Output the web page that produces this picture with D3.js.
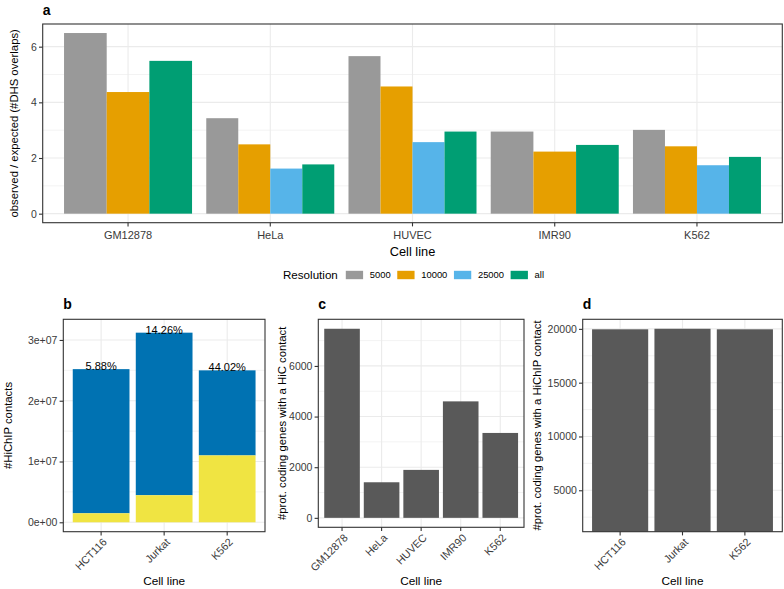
<!DOCTYPE html>
<html>
<head>
<meta charset="utf-8">
<script src="https://cdn.jsdelivr.net/npm/d3@7"></script>
<style>
  body { margin: 0; background: #fff; }
  svg { display: block; font-family: "Liberation Sans", Arial, Helvetica, sans-serif; }
</style>
</head>
<body>
<svg id="chart" width="784" height="589"></svg>
<script>
// ---------- data ----------
const cellLinesA = ["GM12878", "HeLa", "HUVEC", "IMR90", "K562"];
const resolutions = ["5000", "10000", "25000", "all"];
const resColors = ["#999999", "#E69F00", "#56B4E9", "#009E73"];
const ratio5000 = [6.49, 3.43, 5.66, 2.95, 3.01];
const ratio10000 = [4.37, 2.49, 4.57, 2.23, 2.42];
const ratio25000 = [null, 1.62, 2.57, null, 1.74];
const ratioAll = [5.49, 1.77, 2.95, 2.47, 2.04];
const ticksA = [0, 2, 4, 6];

const hichipLines = ["HCT116", "Jurkat", "K562"];
const hichipTotal = [2.52e7, 3.12e7, 2.50e7];
const hichipOverlap = [1.48e6, 4.45e6, 1.10e7];
const hichipPct = ["5.88%", "14.26%", "44.02%"];
const ticksB = [0, 1e7, 2e7, 3e7];

const hicLines = ["GM12878", "HeLa", "HUVEC", "IMR90", "K562"];
const hicGenes = [7468, 1405, 1894, 4600, 3353];
const ticksC = [0, 2000, 4000, 6000];

const hichipGenes = [19960, 20010, 19960];
const ticksD = [5000, 10000, 15000, 20000];
const yDomainD = [1150, 20890];

// ---------- helpers ----------
const svg = d3.select("#chart");
const GRID = "#EBEBEB", BORDER = "#333333", TICKTXT = "#3A3A3A";
const TICK = 3.7;

function sci(d) {
  if (d === 0) return "0e+00";
  const e = Math.floor(Math.log10(Math.abs(d)));
  const m = d / Math.pow(10, e);
  return m + "e+" + (e < 10 ? "0" + e : e);
}

function panel(o) {
  const g = svg.append("g");
  const x = d3.scaleBand().domain(o.cats).range([o.x0, o.x1]).paddingInner(0.1).paddingOuter(0.15);
  const y = d3.scaleLinear().domain(o.yDomain).range([o.y1, o.y0]).clamp(true);
  // minor grid
  const minor = [];
  for (let i = 0; i < o.ticks.length - 1; i++) minor.push((o.ticks[i] + o.ticks[i + 1]) / 2);
  const step = o.ticks[1] - o.ticks[0];
  minor.push(o.ticks[o.ticks.length - 1] + step / 2);
  minor.unshift(o.ticks[0] - step / 2);
  g.append("g").selectAll("line").data(minor.filter(v => v > o.yDomain[0] && v < o.yDomain[1])).join("line")
    .attr("x1", o.x0).attr("x2", o.x1).attr("y1", d => y(d)).attr("y2", d => y(d))
    .attr("stroke", GRID).attr("stroke-width", 0.6);
  g.append("g").selectAll("line").data(o.ticks).join("line")
    .attr("x1", o.x0).attr("x2", o.x1).attr("y1", d => y(d)).attr("y2", d => y(d))
    .attr("stroke", GRID).attr("stroke-width", 1.1);
  g.append("g").selectAll("line").data(o.cats).join("line")
    .attr("x1", d => x(d) + x.bandwidth() / 2).attr("x2", d => x(d) + x.bandwidth() / 2)
    .attr("y1", o.y0).attr("y2", o.y1)
    .attr("stroke", GRID).attr("stroke-width", 1.1);
  const bars = g.append("g");
  // border
  g.append("rect").attr("x", o.x0).attr("y", o.y0).attr("width", o.x1 - o.x0).attr("height", o.y1 - o.y0)
    .attr("fill", "none").attr("stroke", BORDER).attr("stroke-width", 1.1);
  // y axis
  const ya = g.append("g").attr("transform", `translate(${o.x0},0)`)
    .call(d3.axisLeft(y).tickValues(o.ticks).tickSize(TICK).tickPadding(2.2).tickFormat(o.fmt || (d => d)));
  ya.select(".domain").remove();
  ya.selectAll("line").attr("stroke", BORDER).attr("stroke-width", 1.1);
  ya.selectAll("text").attr("fill", TICKTXT).style("font-size", "10.5px").attr("font-family", null);
  // x axis
  const xa = g.append("g").attr("transform", `translate(0,${o.y1})`)
    .call(d3.axisBottom(x).tickSize(TICK).tickPadding(o.rotate ? 2 : 4.5));
  xa.select(".domain").remove();
  xa.selectAll("line").attr("stroke", BORDER).attr("stroke-width", 1.1);
  const xt = xa.selectAll("text").attr("fill", TICKTXT).style("font-size", o.rotate ? "10.8px" : "11px").attr("font-family", null);
  if (o.rotate) {
    xt.attr("y", 0).attr("dy", "0.71em").attr("text-anchor", "end")
      .attr("transform", `translate(1,${TICK + 2}) rotate(-45)`);
  }
  // titles
  g.append("text").attr("x", (o.x0 + o.x1) / 2).attr("y", o.xTitleY).attr("text-anchor", "middle")
    .style("font-size", o.xTitleSize || "11.8px").attr("fill", "#000").text("Cell line");
  g.append("text").attr("transform", `translate(${o.yTitleX},${(o.y0 + o.y1) / 2}) rotate(-90)`)
    .attr("dy", "0.35em").attr("text-anchor", "middle")
    .style("font-size", o.yTitleSize || "11.3px").attr("fill", "#000").text(o.yTitle);
  g.append("text").attr("x", o.x0).attr("y", o.tagY).style("font-size", "14px").attr("font-weight", "bold")
    .attr("fill", "#000").text(o.tag);
  return { g: bars, x, y };
}

// ---------- panel a ----------
{
  const series = [ratio5000, ratio10000, ratio25000, ratioAll];
  const maxA = d3.max(series.flat().filter(v => v != null));
  const p = panel({
    cats: cellLinesA, x0: 42.7, x1: 782.3, y0: 24, y1: 222.7,
    yDomain: [-0.05 * maxA, 1.05 * maxA], ticks: ticksA,
    yTitle: "observed / expected (#DHS overlaps)", yTitleX: 14,
    xTitleY: 255.5, xTitleSize: "12.8px", tag: "a", tagY: 15
  });
  const rows = [];
  cellLinesA.forEach((c, i) => {
    const present = resolutions.map((r, k) => ({ r, k, v: series[k][i] })).filter(d => d.v != null);
    const sub = d3.scaleBand().domain(present.map(d => d.r)).range([p.x(c), p.x(c) + p.x.bandwidth()]);
    present.forEach(d => rows.push({ c, r: d.r, k: d.k, v: d.v, xs: sub(d.r), w: sub.bandwidth() }));
  });
  p.g.selectAll("rect").data(rows).join("rect")
    .attr("x", d => d.xs).attr("width", d => d.w)
    .attr("y", d => p.y(d.v)).attr("height", d => p.y(0) - p.y(d.v))
    .attr("fill", d => resColors[d.k]);

  // legend
  const lg = svg.append("g").attr("transform", "translate(283,275)");
  const title = lg.append("text").attr("x", 0).attr("dy", "0.35em").style("font-size", "11.6px").attr("fill", "#000").text("Resolution");
  let cx = title.node().getComputedTextLength() + 8;
  resolutions.forEach((r, k) => {
    lg.append("rect").attr("x", cx).attr("y", -4.2).attr("width", 17.3).attr("height", 8.4).attr("fill", resColors[k]);
    cx += 17.3 + 6.7;
    const t = lg.append("text").attr("x", cx).attr("dy", "0.35em").style("font-size", "9.4px").attr("fill", "#000").text(r);
    cx += t.node().getComputedTextLength() + 6.6;
  });
}

// ---------- panel b ----------
{
  const p = panel({
    cats: hichipLines, x0: 63.3, x1: 265, y0: 319.3, y1: 531.7,
    yDomain: [-1.55e6, 3.34e7], ticks: ticksB, fmt: sci, rotate: true,
    yTitle: "#HiChIP contacts", yTitleX: 8, xTitleY: 585, tag: "b", tagY: 309.3
  });
  const idx = d3.range(hichipLines.length);
  p.g.selectAll("rect.tot").data(idx).join("rect").attr("class", "tot")
    .attr("x", i => p.x(hichipLines[i])).attr("width", p.x.bandwidth())
    .attr("y", i => p.y(hichipTotal[i])).attr("height", i => p.y(hichipOverlap[i]) - p.y(hichipTotal[i]))
    .attr("fill", "#0072B2");
  p.g.selectAll("rect.ov").data(idx).join("rect").attr("class", "ov")
    .attr("x", i => p.x(hichipLines[i])).attr("width", p.x.bandwidth())
    .attr("y", i => p.y(hichipOverlap[i])).attr("height", i => p.y(0) - p.y(hichipOverlap[i]))
    .attr("fill", "#F0E442");
  p.g.selectAll("text").data(idx).join("text")
    .attr("x", i => p.x(hichipLines[i]) + p.x.bandwidth() / 2).attr("y", i => p.y(hichipTotal[i]) + 1)
    .attr("text-anchor", "middle").style("font-size", "11px").attr("fill", "#000")
    .text(i => hichipPct[i]);
}

// ---------- panel c ----------
{
  const maxC = d3.max(hicGenes);
  const p = panel({
    cats: hicLines, x0: 318.3, x1: 524, y0: 319.3, y1: 527.3,
    yDomain: [-0.05 * maxC, 1.05 * maxC], ticks: ticksC, rotate: true,
    yTitle: "#prot. coding genes with a HiC contact", yTitleX: 282, xTitleY: 585, tag: "c", tagY: 309.3
  });
  p.g.selectAll("rect").data(hicLines).join("rect")
    .attr("x", d => p.x(d)).attr("width", p.x.bandwidth())
    .attr("y", (d, i) => p.y(hicGenes[i])).attr("height", (d, i) => p.y(0) - p.y(hicGenes[i]))
    .attr("fill", "#595959");
}

// ---------- panel d ----------
{
  const p = panel({
    cats: hichipLines, x0: 582.7, x1: 782.3, y0: 319.3, y1: 531.7,
    yDomain: yDomainD, ticks: ticksD, rotate: true,
    yTitle: "#prot. coding genes with a HiChIP contact", yTitleX: 537, xTitleY: 585, tag: "d", tagY: 309.3
  });
  p.g.selectAll("rect").data(hichipLines).join("rect")
    .attr("x", d => p.x(d)).attr("width", p.x.bandwidth())
    .attr("y", (d, i) => p.y(hichipGenes[i])).attr("height", (d, i) => p.y(0) - p.y(hichipGenes[i]))
    .attr("fill", "#595959");
}
</script>
</body>
</html>
